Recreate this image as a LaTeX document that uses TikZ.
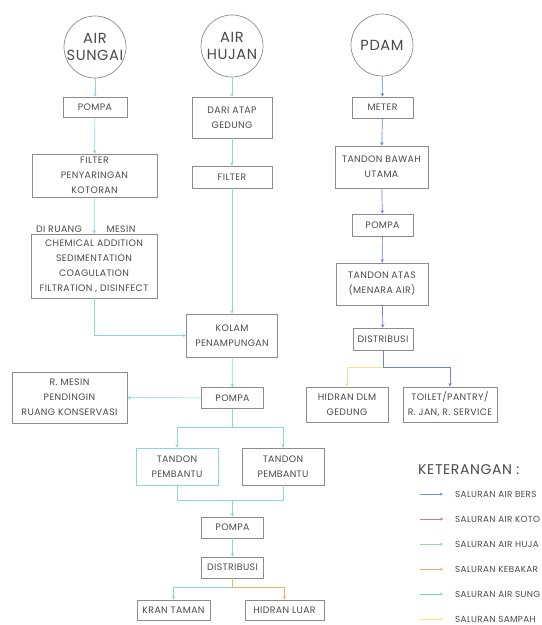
\documentclass[tikz,border=0pt]{standalone}
\usepackage{fontspec}
\setmainfont{Poppins}[LetterSpace=4]
\usetikzlibrary{arrows.meta,positioning}

\definecolor{txtgray}{HTML}{4A4A4A}
\definecolor{boxgray}{HTML}{8C8C8C}
\definecolor{sungai}{HTML}{8DD5DD}
\definecolor{pdamblue}{HTML}{6B86CF}
\definecolor{apiorange}{HTML}{E5B46A}
\definecolor{kuning}{HTML}{F2E38A}
\definecolor{legbersih}{HTML}{6F8FD6}
\definecolor{legkotor}{HTML}{D97A7A}
\definecolor{leghujan}{HTML}{8FDCA0}
\definecolor{legapi}{HTML}{E8A86A}
\definecolor{legsungai}{HTML}{7FD6B5}
\definecolor{legsampah}{HTML}{F5EA7A}

\begin{document}
\begin{tikzpicture}[x=0.03cm,y=-0.03cm,
  every node/.style={text=txtgray},
  src/.style={circle,draw=boxgray,line width=0.6pt,minimum size=1.86cm,inner sep=-8pt,align=center,font=\fontsize{12.5}{15}\selectfont},
  box/.style={draw=boxgray,line width=0.6pt,inner sep=0pt,align=center,font=\fontsize{8}{12.75}\selectfont},
  wh/.style 2 args={minimum width=#1*0.03cm,minimum height=#2*0.03cm},
  lbl/.style={font=\fontsize{8}{9}\selectfont,inner sep=0pt},
  lineS/.style={draw=sungai,line width=0.6pt},
  flowS/.style={lineS,-{Stealth[length=3pt,width=3pt]}},
  lineP/.style={draw=pdamblue,line width=0.6pt},
  flowP/.style={lineP,-{Stealth[length=3pt,width=3pt]}},
  flowO/.style={draw=apiorange,line width=0.6pt,-{Stealth[length=3pt,width=3pt]}},
  flowY/.style={draw=kuning,line width=0.6pt,-{Stealth[length=3pt,width=3pt]}},
  legtext/.style={anchor=west,inner sep=0pt,font=\fontsize{7.5}{8}\selectfont}]

\useasboundingbox (0,0) rectangle (542,625);

% sumber air
\node[src] (airS) at (95,47) {AIR\\SUNGAI};
\node[src] (airH) at (232,46) {AIR\\HUJAN};
\node[src] (pdam) at (382,45) {PDAM};

% jalur air sungai
\node[box,wh={64}{20}] (pompaS) at (95,107) {POMPA};
\node[box,wh={125}{43}] (filterS) at (94.5,175.5) {FILTER\\PENYARINGAN\\KOTORAN};
\node[lbl] (ruang) at (59,229) {DI RUANG};
\node[lbl] (mesinlbl) at (121,229) {MESIN};
\node[box,wh={126}{64}] (kimia) at (94,266) {CHEMICAL ADDITION\\SEDIMENTATION\\COAGULATION\\FILTRATION , DISINFECT};

% jalur air hujan
\node[box,wh={80}{41}] (atap) at (232,117.5) {DARI ATAP\\GEDUNG};
\node[box,wh={80}{22}] (filterH) at (232,177) {FILTER};
\node[box,wh={91}{43}] (kolam) at (232,335.5) {KOLAM\\PENAMPUNGAN};
\node[box,wh={62}{21}] (pompaM) at (232.5,398) {POMPA};
\node[box,wh={115}{51}] (mesin) at (69.5,397.5) {R. MESIN\\PENDINGIN\\RUANG KONSERVASI};
\node[box,draw=sungai,wh={82}{37}] (tandonL) at (177,466.5) {TANDON\\PEMBANTU};
\node[box,wh={82}{37}] (tandonR) at (283,466.5) {TANDON\\PEMBANTU};
\node[box,wh={62}{21}] (pompaB) at (232.5,527.5) {POMPA};
\node[box,wh={62}{21}] (distB) at (232.5,567.5) {DISTRIBUSI};
\node[box,wh={73}{20}] (kran) at (173.5,610) {KRAN TAMAN};
\node[box,wh={79}{20}] (hidranL) at (284.5,610) {HIDRAN LUAR};

% jalur PDAM
\node[box,wh={61}{21}] (meter) at (382.5,107.5) {METER};
\node[box,wh={93}{42}] (tbawah) at (381.5,167) {TANDON BAWAH\\UTAMA};
\node[box,wh={61}{22}] (pompaP) at (382.5,225) {POMPA};
\node[box,wh={92}{42}] (tatas) at (382,284) {TANDON ATAS\\(MENARA AIR)};
\node[box,wh={60}{22}] (distP) at (383,339) {DISTRIBUSI};
\node[box,wh={82}{35}] (hidranD) at (347,404.5) {HIDRAN DLM\\GEDUNG};
\node[box,wh={94}{35}] (toilet) at (450,404.5) {TOILET/PANTRY/\\R. JAN, R. SERVICE};

% titik cabang
\coordinate (splitA) at (232.5,427);
\coordinate (joinA) at (232.5,500);
\coordinate (splitB) at (232.5,587);
\coordinate (splitP) at (383,367);

\draw[flowS] (airS) -- (pompaS);
\draw[flowS] (pompaS) -- (filterS);
\draw[flowS] (filterS) -- (kimia);
\draw[flowS] (kimia.south) |- (kolam.west);
\draw[flowS] (airH) -- (atap);
\draw[flowS] (atap) -- (filterH);
\draw[flowS] (filterH) -- (kolam);
\draw[flowS] (kolam) -- (pompaM);
\draw[flowS] (pompaM) -- (mesin);
\draw[lineS] (pompaM) -- (splitA);
\draw[flowS] (splitA) -| (tandonL);
\draw[flowS] (splitA) -| (tandonR);
\draw[lineS] (tandonL) |- (joinA);
\draw[lineS] (tandonR) |- (joinA);
\draw[flowS] (joinA) -- (pompaB);
\draw[flowS] (pompaB) -- (distB);
\draw[flowS] (splitB) -| (kran);
\draw[flowO] (distB) -- (splitB) -| (hidranL);

\draw[flowP] (pdam) -- (meter);
\draw[flowP] (meter) -- (tbawah);
\draw[flowP] (tbawah) -- (pompaP);
\draw[flowP] (pompaP) -- (tatas);
\draw[flowP] (tatas) -- (distP);
\draw[lineP] (distP) -- (splitP);
\draw[flowP] (splitP) -| (toilet);
\draw[flowY] (splitP) -| (hidranD);

% keterangan
\node[anchor=west,inner sep=0pt,font=\fontsize{12}{14}\selectfont] (ket) at (418,470) {KETERANGAN :};
\foreach \c/\t [count=\i] in {legbersih/SALURAN AIR BERS,legkotor/SALURAN AIR KOTO,leghujan/SALURAN AIR HUJA,legapi/SALURAN KEBAKAR,legsungai/SALURAN AIR SUNG,legsampah/SALURAN SAMPAH}{
  \node[legtext] (leg\i) at (455,{469+\i*25}) {\t};
  \draw[draw=\c,line width=0.6pt,-{Stealth[length=2.5pt,width=2.5pt]}] ([xshift=-1.05cm]leg\i.west) -- ([xshift=-0.36cm]leg\i.west);
}
\end{tikzpicture}
\end{document}
